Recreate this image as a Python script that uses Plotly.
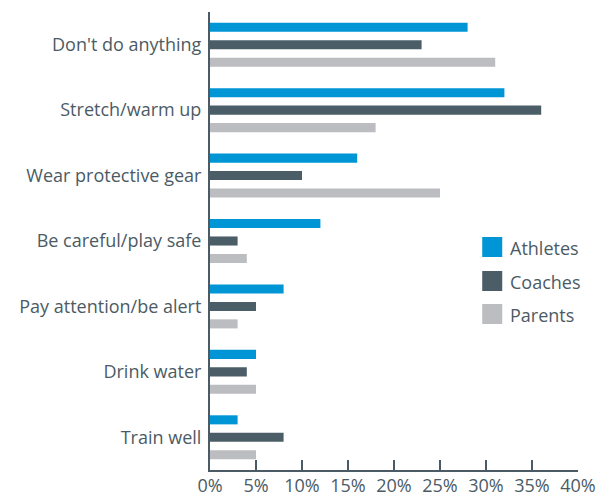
import plotly.graph_objects as go

categories = ["Don't do anything", "Stretch/warm up", "Wear protective gear",
              "Be careful/play safe", "Pay attention/be alert", "Drink water", "Train well"]
series_names = ["Athletes", "Coaches", "Parents"]
athletes = [28, 32, 16, 12, 8, 5, 3]
coaches = [23, 36, 10, 3, 5, 4, 8]
parents = [31, 18, 25, 4, 3, 5, 5]
x_ticks = [0, 5, 10, 15, 20, 25, 30, 35, 40]

colors = ["#0096d6", "#4b5e68", "#bcbdc0"]
text_color = "#4b5b65"
font_family = "Open Sans"

fig = go.Figure()
for name, vals, col in zip(series_names, [athletes, coaches, parents], colors):
    fig.add_trace(go.Bar(y=categories, x=vals, name=name, orientation="h",
                         marker=dict(color=col, line=dict(width=0)),
                         showlegend=False, hoverinfo="x+y"))

L, R, T, B = 210, 577.7, 12, 470
W, H = 599, 496

def px(x):
    return (x - L) / (R - L)

def py(y):
    return (B - y) / (B - T)

# custom legend (large square swatches)
legend_tops = [237, 271, 304]
shapes = []
annotations = []
for name, col, top in zip(series_names, colors, legend_tops):
    shapes.append(dict(type="rect", xref="paper", yref="paper",
                       x0=px(482), x1=px(502), y0=py(top + 20), y1=py(top),
                       fillcolor=col, line=dict(width=0)))
    annotations.append(dict(xref="paper", yref="paper", x=px(507.5), y=py(top + 10.5),
                            text=name, showarrow=False, xanchor="left", yanchor="middle",
                            font=dict(family=font_family, size=18, color=text_color)))

fig.update_layout(
    width=W, height=H,
    margin=dict(l=L, r=W - R, t=T, b=H - B, pad=0, autoexpand=False),
    paper_bgcolor="white", plot_bgcolor="white",
    barmode="group", bargap=0.2, bargroupgap=0.48,
    font=dict(family=font_family, size=18, color=text_color),
    shapes=shapes, annotations=annotations,
    xaxis=dict(range=[0, 40], tickvals=x_ticks, ticktext=[f"{v}%" for v in x_ticks],
               showgrid=False, zeroline=False, showline=True, linecolor=text_color,
               linewidth=2, ticks="inside", ticklen=10, tickwidth=2, tickcolor=text_color,
               tickfont=dict(size=18, color=text_color), fixedrange=True, automargin=False,
               ticklabelstandoff=-2),
    yaxis=dict(autorange="reversed", showgrid=False, zeroline=False, showline=True,
               linecolor=text_color, linewidth=2, ticks="", ticklabelstandoff=3,
               tickfont=dict(size=18, color=text_color), fixedrange=True, automargin=False),
)

fig.write_html("out.html", config={"displayModeBar": False},
               post_script="document.body.style.margin='0px';document.body.style.overflow='hidden';")
